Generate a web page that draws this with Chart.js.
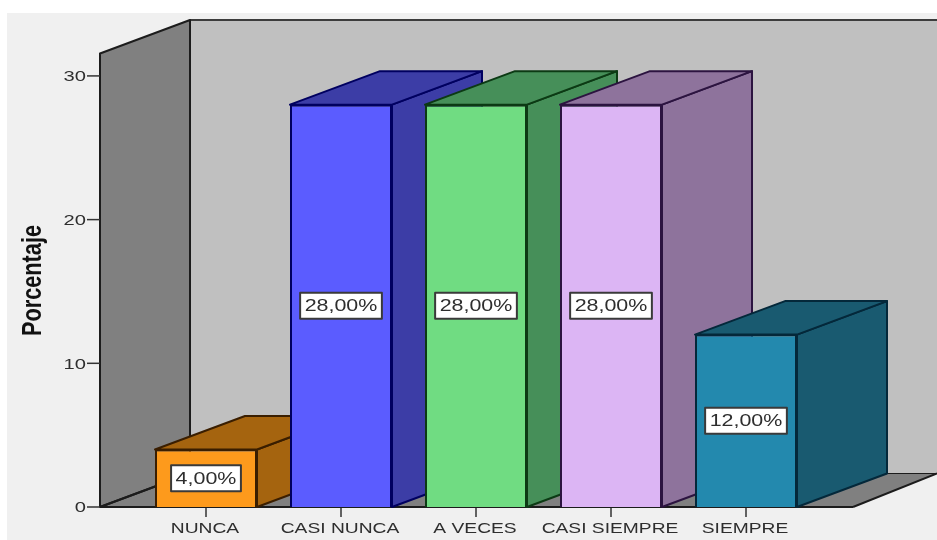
<!DOCTYPE html>
<html lang="es">
<head>
<meta charset="utf-8">
<title>Porcentaje</title>
<style>
  html, body { margin: 0; padding: 0; background: #fff; }
  canvas { display: block; filter: blur(0.5px); } /* the source picture is soft */
</style>
<script src="https://cdn.jsdelivr.net/npm/chart.js@4/dist/chart.umd.js"></script>
</head>
<body>
<canvas id="chart" width="937" height="540"></canvas>
<script>
// --- Data ---
const categories = ['NUNCA', 'CASI NUNCA', 'A VECES', 'CASI SIEMPRE', 'SIEMPRE'];
const percentages = [4, 28, 28, 28, 12];
const yTicks = [0, 10, 20, 30];
const yTitle = 'Porcentaje';

const frontColors = ['#fd9a1c', '#5b5cff', '#70dc82', '#dcb5f4', '#2389ae'];
const sideColors = ['#a5640f', '#3c3da6', '#468f59', '#8e739c', '#195a70'];
const edgeColors = ['#3a1e00', '#000060', '#0c3a14', '#2c1440', '#04283a'];

// --- 3D box geometry ---
const DEPTH_X = 90;
const DEPTH_Y = 33.5;
const WALL_LEFT = 100;
const FLOOR_RIGHT = 853;
// the source picture is stretched sideways
const TEXT_STRETCH = 1.3;
const CATEGORY_STRETCH = 1.24;

function poly(ctx, points, fill, stroke, width) {
    ctx.beginPath();
    points.forEach((p, i) => i ? ctx.lineTo(p[0], p[1]) : ctx.moveTo(p[0], p[1]));
    ctx.closePath();
    ctx.fillStyle = fill;
    ctx.fill();
    if (stroke) {
        ctx.strokeStyle = stroke;
        ctx.lineWidth = width;
        ctx.lineJoin = 'round';
        ctx.stroke();
    }
}

function line(ctx, x1, y1, x2, y2, color, width) {
    ctx.beginPath();
    ctx.moveTo(x1, y1);
    ctx.lineTo(x2, y2);
    ctx.strokeStyle = color;
    ctx.lineWidth = width;
    ctx.stroke();
}

function wideText(ctx, text, x, y, stretch = TEXT_STRETCH) {
    ctx.save();
    ctx.translate(x, y);
    ctx.scale(stretch, 1);
    ctx.fillText(text, 0, 0);
    ctx.restore();
}

const scene3d = {
    id: 'scene3d',
    beforeDraw(chart) {
        const ctx = chart.ctx;
        ctx.fillStyle = '#fff';
        ctx.fillRect(0, 0, chart.width, chart.height);
        ctx.fillStyle = '#f0f0f0';
        ctx.fillRect(7, 13, chart.width - 7, chart.height - 13);
    },
    beforeDatasetsDraw(chart) {
        const ctx = chart.ctx;
        const y = chart.scales.y;
        const top = chart.chartArea.top;
        const base = y.getPixelForValue(0);
        const backX = WALL_LEFT + DEPTH_X;
        const backTop = top - DEPTH_Y;
        const backBase = base - DEPTH_Y;

        // walls and floor
        poly(ctx, [[backX, backTop], [chart.width + 5, backTop], [chart.width + 5, backBase], [backX, backBase]], '#c0c0c0');
        line(ctx, backX, backTop, chart.width, backTop, '#3c3c3c', 2);
        poly(ctx, [[WALL_LEFT, base], [backX, backBase], [chart.width, backBase], [FLOOR_RIGHT, base]], '#808080');
        poly(ctx, [[WALL_LEFT, top], [backX, backTop], [backX, backBase], [WALL_LEFT, base]], '#808080', '#1c1c1c', 2);
        line(ctx, WALL_LEFT, base, backX, backBase, '#1c1c1c', 2);
        line(ctx, FLOOR_RIGHT, base, chart.width, backBase, '#1c1c1c', 2);
        line(ctx, backX, backBase, chart.width, backBase, '#1c1c1c', 1);

        // axis line and y tick marks
        line(ctx, WALL_LEFT, base, FLOOR_RIGHT, base, '#1c1c1c', 2);
        y.ticks.forEach(t => {
            const py = y.getPixelForValue(t.value);
            line(ctx, WALL_LEFT - 13, py, WALL_LEFT, py, '#333', 1.5);
        });

        // box sides, left to right so the next box covers the previous one
        chart.getDatasetMeta(0).data.forEach((bar, i) => {
            const p = bar.getProps(['x', 'y', 'base', 'width'], true);
            const l = p.x - p.width / 2;
            const r = p.x + p.width / 2;
            poly(ctx, [[r, p.y], [r + DEPTH_X, p.y - DEPTH_Y], [r + DEPTH_X, p.base - DEPTH_Y], [r, p.base]],
                sideColors[i], edgeColors[i], 2);
            poly(ctx, [[l, p.y], [l + DEPTH_X, p.y - DEPTH_Y], [r + DEPTH_X, p.y - DEPTH_Y], [r, p.y]],
                sideColors[i], edgeColors[i], 2);
        });
    },
    afterDatasetsDraw(chart) {
        const ctx = chart.ctx;
        const x = chart.scales.x;
        const y = chart.scales.y;
        const base = y.getPixelForValue(0);

        ctx.save();
        ctx.fillStyle = '#2e2e2e';
        ctx.font = '15.5px "Liberation Sans"';
        ctx.textBaseline = 'middle';

        // x ticks and labels
        ctx.textAlign = 'center';
        x.ticks.forEach((t, i) => {
            const px = x.getPixelForTick(i);
            line(ctx, px, base + 1, px, base + 10, '#333', 1.5);
            wideText(ctx, x.getLabelForValue(t.value), px - 1, base + 22, CATEGORY_STRETCH);
        });

        // y labels
        ctx.textAlign = 'right';
        y.ticks.forEach(t => wideText(ctx, t.label, WALL_LEFT - 14, y.getPixelForValue(t.value) + 1));

        // y title, squeezed along its length
        ctx.save();
        ctx.translate(41, 280.5);
        ctx.rotate(-Math.PI / 2);
        ctx.scale(0.776, 1);
        ctx.font = 'bold 28px "Liberation Sans"';
        ctx.fillStyle = '#111';
        ctx.textAlign = 'center';
        ctx.textBaseline = 'alphabetic';
        ctx.fillText(yTitle, 0, 0);
        ctx.restore();

        // value boxes
        ctx.font = '16.5px "Liberation Sans"';
        ctx.textAlign = 'center';
        chart.getDatasetMeta(0).data.forEach((bar, i) => {
            const p = bar.getProps(['x', 'y', 'base'], true);
            const my = (p.y + p.base) / 2;
            const text = percentages[i].toFixed(2).replace('.', ',') + '%';
            const w = ctx.measureText(text).width * TEXT_STRETCH + 9;
            ctx.fillStyle = '#fff';
            ctx.fillRect(p.x - w / 2, my - 13, w, 26);
            ctx.strokeStyle = '#3a3a3a';
            ctx.lineWidth = 2;
            ctx.strokeRect(p.x - w / 2, my - 13, w, 26);
            ctx.fillStyle = '#2e2e2e';
            wideText(ctx, text, p.x, my + 1);
        });
        ctx.restore();
    }
};

new Chart(document.getElementById('chart'), {
    type: 'bar',
    data: {
        labels: categories,
        datasets: [{
            data: percentages,
            backgroundColor: frontColors,
            borderColor: edgeColors,
            borderWidth: 2,
            barPercentage: 102 / 135,
            categoryPercentage: 1
        }]
    },
    options: {
        responsive: false,
        animation: false,
        layout: { padding: { top: 53.5, right: 123.5, bottom: 0, left: 0 } },
        plugins: { legend: { display: false }, tooltip: { enabled: false } },
        scales: {
            x: {
                border: { display: false },
                grid: { display: false, drawTicks: false },
                ticks: { display: false, autoSkip: false },
                afterFit: scale => { scale.height = 33; }
            },
            y: {
                min: 0,
                max: 31.56,
                border: { display: false },
                grid: { display: false, drawTicks: false },
                afterBuildTicks: scale => { scale.ticks = yTicks.map(value => ({ value })); },
                ticks: { display: false },
                afterFit: scale => { scale.width = 138.5; }
            }
        }
    },
    plugins: [scene3d]
});
</script>
</body>
</html>
